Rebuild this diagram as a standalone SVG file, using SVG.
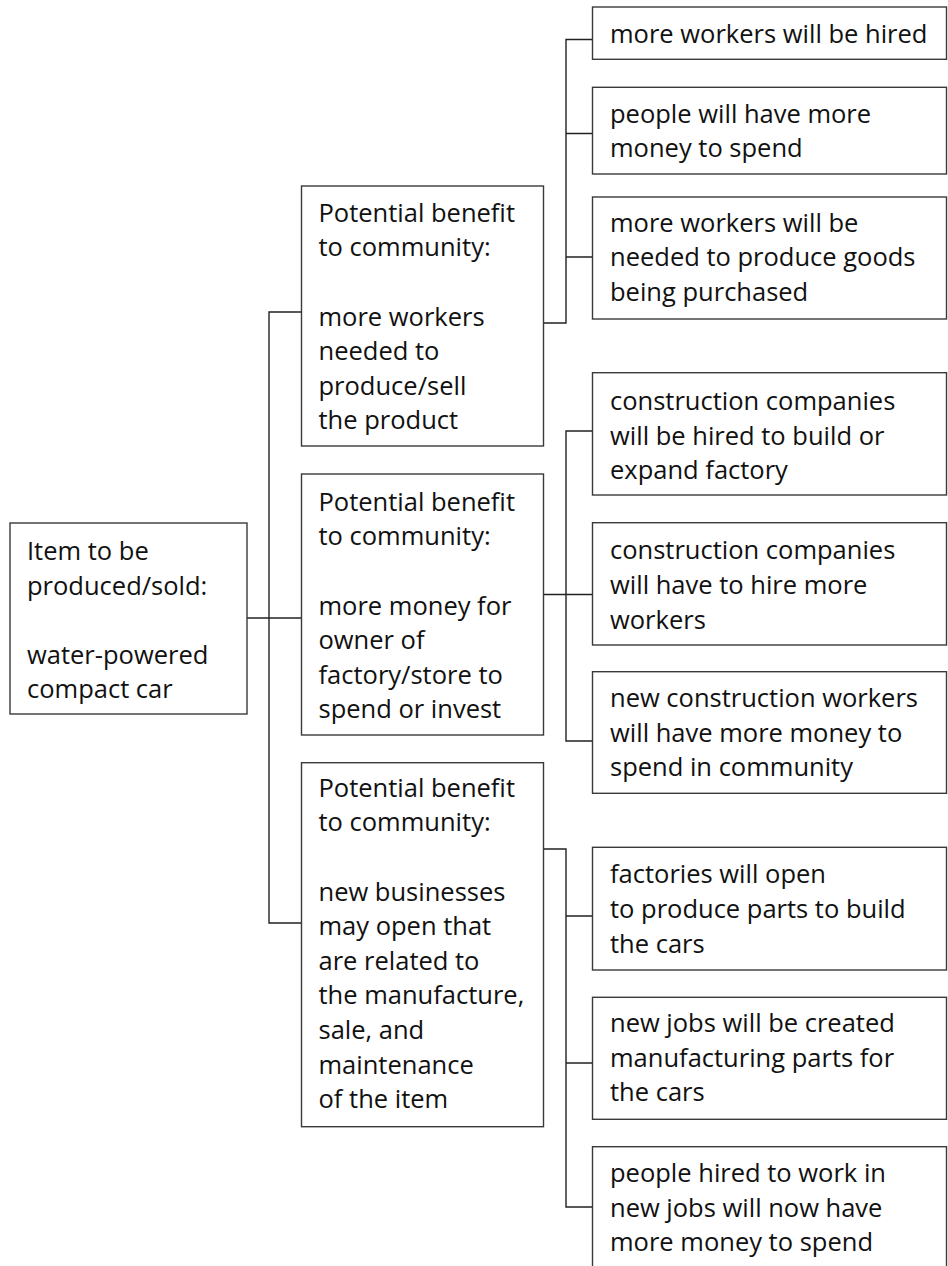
<svg xmlns="http://www.w3.org/2000/svg" width="948" height="1266" viewBox="0 0 948 1266">
<style>
.box{fill:#fff;stroke:#3a3a3a;stroke-width:1.4}
.t{font-family:"Open Sans","Noto Sans","Liberation Sans",sans-serif;font-size:25.5px;fill:#111}
.c{fill:none;stroke:#222;stroke-width:1.4}
</style>
<rect width="948" height="1266" fill="#fff"/>
<g id="connectors">
<path class="c" d="M247,618 H301.5"/>
<path class="c" d="M301.5,312 H269 V923 H301.5"/>
<path class="c" d="M543.5,323 H566 V39.5 H592.5 M566,133.5 H592.5 M566,257 H592.5"/>
<path class="c" d="M543.5,594.5 H592.5 M592.5,431 H566 V741 H592.5"/>
<path class="c" d="M543.5,849 H566 V1207 H592.5 M566,916 H592.5 M566,1063 H592.5"/>
</g>
<g id="root">
<rect class="box" x="10" y="523" width="237" height="191"/>
<text class="t" x="27" y="560">Item to be</text>
<text class="t" x="27" y="594.5">produced/sold:</text>
<text class="t" x="27" y="663.5">water-powered</text>
<text class="t" x="27" y="698">compact car</text>
</g>
<g id="benefit1">
<rect class="box" x="301.5" y="186" width="242" height="260"/>
<text class="t" x="318.5" y="221.7">Potential benefit</text>
<text class="t" x="318.5" y="256.3">to community:</text>
<text class="t" x="318.5" y="325.5">more workers</text>
<text class="t" x="318.5" y="360">needed to</text>
<text class="t" x="318.5" y="394.7">produce/sell</text>
<text class="t" x="318.5" y="429.3">the product</text>
</g>
<g id="benefit2">
<rect class="box" x="301.5" y="474" width="242" height="261"/>
<text class="t" x="318.5" y="510.7">Potential benefit</text>
<text class="t" x="318.5" y="545.3">to community:</text>
<text class="t" x="318.5" y="614.5">more money for</text>
<text class="t" x="318.5" y="649.1">owner of</text>
<text class="t" x="318.5" y="683.7">factory/store to</text>
<text class="t" x="318.5" y="718.3">spend or invest</text>
</g>
<g id="benefit3">
<rect class="box" x="301.5" y="762.7" width="242" height="364"/>
<text class="t" x="318.5" y="796.7">Potential benefit</text>
<text class="t" x="318.5" y="831.3">to community:</text>
<text class="t" x="318.5" y="900.5">new businesses</text>
<text class="t" x="318.5" y="935.1">may open that</text>
<text class="t" x="318.5" y="969.7">are related to</text>
<text class="t" x="318.5" y="1004.3">the manufacture,</text>
<text class="t" x="318.5" y="1038.9">sale, and</text>
<text class="t" x="318.5" y="1073.5">maintenance</text>
<text class="t" x="318.5" y="1108.1">of the item</text>
</g>
<g id="c1">
<rect class="box" x="592.5" y="7" width="354" height="52.3"/>
<text class="t" x="610" y="42.5">more workers will be hired</text>
</g>
<g id="c2">
<rect class="box" x="592.5" y="87.3" width="354" height="86.7"/>
<text class="t" x="610" y="122.7">people will have more</text>
<text class="t" x="610" y="157.2">money to spend</text>
</g>
<g id="c3">
<rect class="box" x="592.5" y="197" width="354" height="122"/>
<text class="t" x="610" y="231.5">more workers will be</text>
<text class="t" x="610" y="266.1">needed to produce goods</text>
<text class="t" x="610" y="300.7">being purchased</text>
</g>
<g id="c4">
<rect class="box" x="592.5" y="372.7" width="354" height="122.3"/>
<text class="t" x="610" y="410">construction companies</text>
<text class="t" x="610" y="444.6">will be hired to build or</text>
<text class="t" x="610" y="479.2">expand factory</text>
</g>
<g id="c5">
<rect class="box" x="592.5" y="522.7" width="354" height="122.3"/>
<text class="t" x="610" y="559.3">construction companies</text>
<text class="t" x="610" y="593.9">will have to hire more</text>
<text class="t" x="610" y="628.5">workers</text>
</g>
<g id="c6">
<rect class="box" x="592.5" y="671.7" width="354" height="121.6"/>
<text class="t" x="610" y="707">new construction workers</text>
<text class="t" x="610" y="741.6">will have more money to</text>
<text class="t" x="610" y="776.2">spend in community</text>
</g>
<g id="c7">
<rect class="box" x="592.5" y="847.3" width="354" height="122.7"/>
<text class="t" x="610" y="883.3">factories will open</text>
<text class="t" x="610" y="917.9">to produce parts to build</text>
<text class="t" x="610" y="952.5">the cars</text>
</g>
<g id="c8">
<rect class="box" x="592.5" y="997.3" width="354" height="122"/>
<text class="t" x="610" y="1032">new jobs will be created</text>
<text class="t" x="610" y="1066.6">manufacturing parts for</text>
<text class="t" x="610" y="1101.2">the cars</text>
</g>
<g id="c9">
<rect class="box" x="592.5" y="1146.7" width="354" height="124"/>
<text class="t" x="610" y="1182">people hired to work in</text>
<text class="t" x="610" y="1216.6">new jobs will now have</text>
<text class="t" x="610" y="1251.2">more money to spend</text>
</g>
</svg>
